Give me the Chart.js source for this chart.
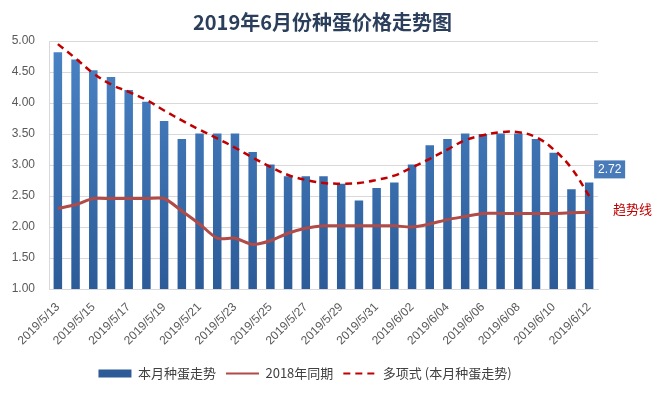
<!DOCTYPE html>
<html>
<head>
    <meta charset="utf-8">
    <script src="https://cdn.jsdelivr.net/npm/chart.js"></script>
    <title>2019年6月份种蛋价格走势图</title>
    <style>
        body { margin: 0; background: #fff; }
        #wrap { width: 655px; height: 393px; }
    </style>
</head>
<body>
<div id="wrap"><canvas id="eggChart"></canvas></div>

<script>
    // dates 2019/5/13 .. 2019/6/12
    var dates = ['2019/5/13','2019/5/14','2019/5/15','2019/5/16','2019/5/17','2019/5/18','2019/5/19',
                 '2019/5/20','2019/5/21','2019/5/22','2019/5/23','2019/5/24','2019/5/25','2019/5/26',
                 '2019/5/27','2019/5/28','2019/5/29','2019/5/30','2019/5/31','2019/6/01','2019/6/02',
                 '2019/6/03','2019/6/04','2019/6/05','2019/6/06','2019/6/07','2019/6/08','2019/6/09',
                 '2019/6/10','2019/6/11','2019/6/12'];
    var thisMonth = [4.82,4.70,4.53,4.42,4.21,4.02,3.71,3.42,3.51,3.51,3.51,3.21,3.01,2.82,2.82,2.82,
                     2.70,2.43,2.63,2.72,3.01,3.32,3.42,3.51,3.50,3.51,3.51,3.42,3.20,2.61,2.72];
    var lastYear = [2.30,2.36,2.46,2.46,2.46,2.46,2.46,2.26,2.05,1.82,1.82,1.72,1.78,1.90,1.98,2.02,
                    2.02,2.02,2.02,2.02,2.00,2.05,2.12,2.17,2.22,2.22,2.22,2.22,2.22,2.23,2.24];
    var trend = [4.95,4.72,4.48,4.30,4.18,4.05,3.88,3.72,3.57,3.43,3.28,3.12,2.97,2.84,2.76,2.71,
                 2.70,2.71,2.76,2.83,2.96,3.10,3.25,3.40,3.48,3.53,3.53,3.45,3.25,2.95,2.50];
    var yTicks = [1,1.5,2,2.5,3,3.5,4,4.5,5];
    var chartTitle = '2019年6月份种蛋价格走势图';

    var cjk = '"Noto Sans CJK SC", "Liberation Sans", sans-serif';

    var barGradient = function(ctx){
        var area = ctx.chart.chartArea;
        if (!area) return '#3a6fb2';
        var g = ctx.chart.ctx.createLinearGradient(0, area.top, 0, area.bottom);
        g.addColorStop(0, '#4a84c6');
        g.addColorStop(1, '#2c5b98');
        return g;
    };

    // title centred on the whole picture, "2.72" box and the red 趋势线 note
    var notes = {
        id: 'notes',
        beforeDraw: function(chart){
            var c = chart.ctx;
            c.save();
            c.fillStyle = '#2b3f5c';
            c.font = 'bold 20px ' + cjk;
            c.textAlign = 'center';
            c.textBaseline = 'middle';
            c.fillText(chartTitle, chart.width / 2 - 5, 22);
            c.restore();
        },
        afterDatasetsDraw: function(chart){
            var c = chart.ctx;
            var bars = chart.getDatasetMeta(0).data;
            var last = bars[bars.length - 1];
            var val = thisMonth[thisMonth.length - 1].toFixed(2);
            c.save();
            c.fillStyle = '#4a7bb9';
            c.fillRect(last.x + 5, last.y - 22, 31, 18);
            c.fillStyle = '#ffffff';
            c.font = '12px "Liberation Sans", sans-serif';
            c.textAlign = 'center';
            c.textBaseline = 'middle';
            c.fillText(val, last.x + 20.5, last.y - 13);

            var tl = chart.getDatasetMeta(2).data;
            var tp = tl[tl.length - 1];
            c.fillStyle = '#c00000';
            c.font = '13px ' + cjk;
            c.textAlign = 'left';
            c.fillText('趋势线', chart.chartArea.right + 15, tp.y + 13);
            c.restore();
        }
    };

    var ctx = document.getElementById('eggChart');
    new Chart(ctx, {
        type: 'bar',
        data: {
            labels: dates,
            datasets: [
                {
                    label: '本月种蛋走势',
                    data: thisMonth,
                    backgroundColor: barGradient,
                    barPercentage: 0.48,
                    categoryPercentage: 1,
                    pointStyle: 'rect',
                    order: 3
                },
                {
                    type: 'line',
                    label: '2018年同期',
                    data: lastYear,
                    borderColor: '#b14b48',
                    backgroundColor: '#b14b48',
                    borderWidth: 3,
                    pointRadius: 0,
                    tension: 0.25,
                    pointStyle: 'line',
                    order: 2
                },
                {
                    type: 'line',
                    label: '多项式 (本月种蛋走势)',
                    data: trend,
                    borderColor: '#c00000',
                    backgroundColor: '#c00000',
                    borderWidth: 2.5,
                    borderDash: [7, 5],
                    pointRadius: 0,
                    tension: 0.4,
                    pointStyle: 'line',
                    order: 1
                }
            ]
        },
        options: {
            responsive: true,
            maintainAspectRatio: false,
            animation: false,
            layout: { autoPadding: false, padding: { left: 12, right: 57, top: 41, bottom: 3 } },
            plugins: {
                title: { display: false },
                legend: {
                    position: 'bottom',
                    labels: {
                        usePointStyle: true,
                        pointStyleWidth: 33,
                        boxHeight: 8,
                        padding: 10,
                        color: '#404040',
                        font: { family: cjk, size: 13 },
                        sort: function(a, b){ return a.datasetIndex - b.datasetIndex; },
                        generateLabels: function(chart){
                            var items = Chart.defaults.plugins.legend.labels.generateLabels(chart);
                            items.forEach(function(it){
                                var ds = chart.data.datasets[it.datasetIndex];
                                if (ds.type === 'line') {
                                    it.lineDash = ds.borderDash || [];
                                    it.lineWidth = 2;
                                    it.strokeStyle = ds.borderColor;
                                }
                            });
                            return items;
                        }
                    }
                },
                tooltip: { enabled: false }
            },
            scales: {
                x: {
                    grid: { display: false },
                    border: { display: true, color: '#d9d9d9' },
                    afterFit: function(axis){ axis.height += 6; },
                    ticks: {
                        autoSkip: false,
                        maxRotation: 45,
                        minRotation: 45,
                        color: '#595959',
                        font: { family: '"Liberation Sans", sans-serif', size: 12 },
                        callback: function(v, i){ return i % 2 === 0 ? dates[i] : ''; }
                    }
                },
                y: {
                    min: 1,
                    max: 5,
                    afterBuildTicks: function(axis){
                        axis.ticks = yTicks.map(function(v){ return { value: v }; });
                    },
                    afterFit: function(axis){ axis.width = 37; },
                    grid: { color: '#d9d9d9', drawTicks: false },
                    border: { display: true, color: '#d9d9d9' },
                    ticks: {
                        padding: 14,
                        color: '#595959',
                        font: { family: '"Liberation Sans", sans-serif', size: 12 },
                        callback: function(v){ return Number(v).toFixed(2); }
                    }
                }
            }
        },
        plugins: [notes]
    });
</script>
</body>
</html>
